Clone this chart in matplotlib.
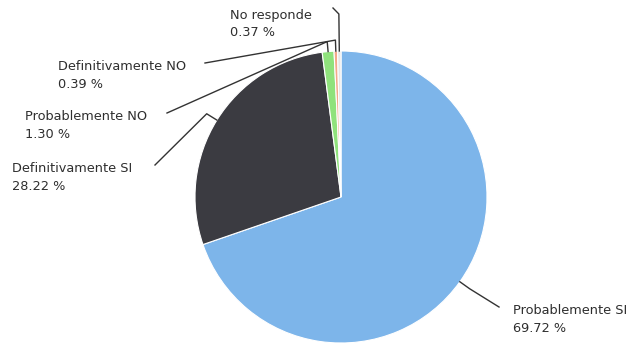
import numpy as np
import matplotlib
matplotlib.use("Agg")
import matplotlib.pyplot as plt

# Data
categories = ["Probablemente SI", "Definitivamente SI", "Probablemente NO",
              "Definitivamente NO", "No responde"]
values = [69.72, 28.22, 1.30, 0.39, 0.37]
colors = ["#7db5ea", "#3b3b41", "#8fe27c", "#f3a98a", "#e6e6e6"]

# Layout (pixel coordinates, y measured from top)
W, H = 630, 349
center_px = (341, 197)
radius = 146
label_pos = {  # left x, center y of first line
    "Probablemente SI": (513, 310),
    "Definitivamente SI": (12, 168),
    "Probablemente NO": (25, 117),
    "Definitivamente NO": (58, 66),
    "No responde": (230, 15),
}
line_end = {
    "Probablemente SI": (499, 307),
    "Definitivamente SI": (155, 165),
    "Probablemente NO": (167, 113),
    "Definitivamente NO": (205, 63),
    "No responde": (333, 8),
}
elbow_extra = {
    "Probablemente SI": 12,
    "Definitivamente SI": 12,
    "Probablemente NO": 10,
    "Definitivamente NO": 11,
    "No responde": 37,
}

def Y(py):
    return H - py

fig = plt.figure(figsize=(W / 100, H / 100), dpi=100)
ax = fig.add_axes([0, 0, 1, 1])
cx, cy = center_px[0], Y(center_px[1])
wedges, _ = ax.pie(values, colors=colors, startangle=90, counterclock=False,
                   center=(cx, cy), radius=radius,
                   wedgeprops=dict(edgecolor="white", linewidth=0.8))
ax.set_xlim(0, W)
ax.set_ylim(0, H)
ax.set_aspect("equal")
ax.axis("off")

for w, cat, val in zip(wedges, categories, values):
    mid = np.deg2rad((w.theta1 + w.theta2) / 2)
    p0 = (cx + radius * np.cos(mid), cy + radius * np.sin(mid))
    re = radius + elbow_extra[cat]
    p1 = (cx + re * np.cos(mid), cy + re * np.sin(mid))
    ex, ey = line_end[cat]
    ax.plot([p0[0], p1[0], ex], [p0[1], p1[1], Y(ey)], color="#333333",
            lw=1.0, solid_joinstyle="round")
    lx, ly = label_pos[cat]
    ax.text(lx, Y(ly), cat, ha="left", va="center", fontsize=9.3,
            color="#2e2e2e", family="DejaVu Sans")
    ax.text(lx, Y(ly + 18), f"{val:.2f} %", ha="left", va="center",
            fontsize=9.3, color="#2e2e2e", family="DejaVu Sans")

fig.savefig("out.png", dpi=100, facecolor="white")
